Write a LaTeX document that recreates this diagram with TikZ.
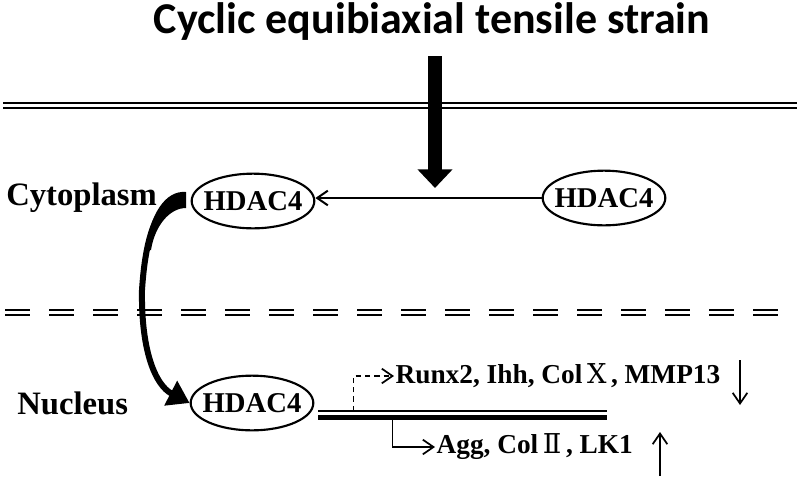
\documentclass[tikz,border=0pt]{standalone}
\usepackage{fontspec}
\setmainfont{Liberation Serif}
\newfontfamily\titlefont{Carlito}
\newfontfamily\romfont{DejaVu Serif}
\usetikzlibrary{arrows.meta,shapes.geometric,calc}

\begin{document}
\begin{tikzpicture}[x=0.75pt,y=-0.75pt,
    hdac/.style={ellipse, draw, line width=1.6pt, minimum width=92pt, minimum height=41pt, inner xsep=-5pt, inner ysep=0pt, font=\bfseries\fontsize{21.5}{24}\selectfont},
    region/.style={anchor=west, inner sep=0pt, font=\bfseries\fontsize{24.5}{28}\selectfont},
    gene/.style={anchor=west, inner sep=1pt, font=\bfseries\fontsize{20.5}{24}\selectfont},
    membrane/.style={line width=1.1pt, double, double distance=2.6pt},
    thinarrow/.style={line width=1.5pt, -{Straight Barb[length=8pt,width=11pt]}},
    bigarrow/.style={line width=11pt, -{Triangle[length=14pt,width=25.5pt]}},
    swoosh/.style={line width=4.5pt, -{Triangle[length=16pt,width=20pt]}}]
    \useasboundingbox (0,0) rectangle (800,479);

    % membranes
    \draw[membrane] (3,105.5) -- (797,105.5);
    \draw[membrane, dash pattern=on 18.75pt off 14.25pt] (5,312.5) -- (780,312.5);

    % title and strain arrow
    \node[font=\titlefont\bfseries\fontsize{33}{38}\selectfont] (title) at (432,22) {Cyclic equibiaxial tensile strain};
    \coordinate (strainEnd) at (435,188);
    \draw[bigarrow] (strainEnd |- 0,56) -- (strainEnd);

    % labels
    \node[region] (cyto) at (6,198) {Cytoplasm};
    \node[region] (nuc) at (17,403) {Nucleus};

    % HDAC4
    \node[hdac] (cytoHD) at (253,201) {HDAC4};
    \node[hdac] (cytoHDr) at (604,198) {HDAC4};
    \node[hdac] (nucHD) at (252,403) {HDAC4};
    \draw[thinarrow] (cytoHDr.west) -- (cytoHD.east |- cytoHDr.west);

    % import into nucleus
    \fill (186,192) .. controls (165,190) and (150,215) .. (145,250) -- (151,250)
        .. controls (155,225) and (170,208) .. (186,208) -- cycle;
    \draw[swoosh] ([xshift=-5pt]cytoHD.west) .. controls (160,200) and (146,228) .. (142,290)
        .. controls (141,350) and (155,385) .. (nucHD.west);

    % target genes
    \coordinate (dnaStart) at ($(nucHD.east)+(4,8)$);
    \draw[line width=1.5pt] (dnaStart) -- ++(289,0);
    \draw[line width=4pt] ($(dnaStart)+(0,6.5)$) -- ++(289,0);
    \node[gene] (runx) at (394,376) {Runx2, Ihh, Col\,{\romfont\mdseries Ⅹ}\,, MMP13};
    \node[gene] (agg) at (435,447) {Agg, Col\,{\romfont\mdseries Ⅱ}\,, LK1};
    \draw[thinarrow, line width=1.3pt, dash pattern=on 4pt off 3pt] ($(dnaStart)+(35,0)$) |- (runx.west);
    \draw[thinarrow, line width=1.3pt] ($(dnaStart)+(74,9)$) |- (agg.west);
    \coordinate (downTop) at (740,360);
    \coordinate (upBottom) at (660,476);
    \draw[thinarrow, line width=1.3pt] (downTop) -- ++(0,45);
    \draw[thinarrow, line width=1.3pt] (upBottom) -- ++(0,-44);
\end{tikzpicture}
\end{document}
